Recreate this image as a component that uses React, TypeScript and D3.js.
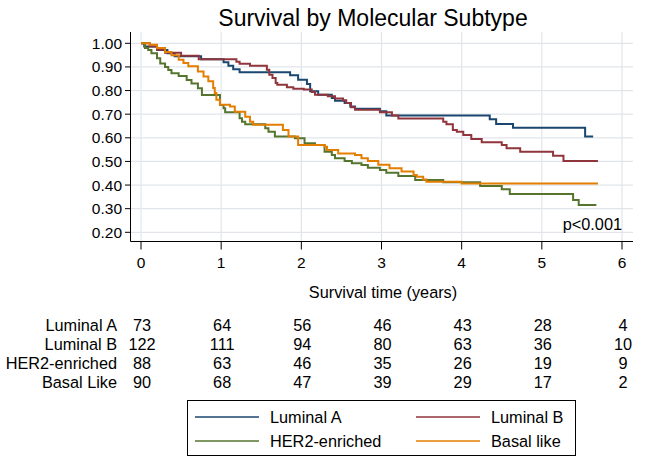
import React from "react";
import * as d3 from "d3";

// ---------- data ----------
const groups = ["Luminal A", "Luminal B", "HER2-enriched", "Basal like"];
const riskLabels = ["Luminal A", "Luminal B", "HER2-enriched", "Basal Like"];
const colors = ["#1a476f", "#90353b", "#55752f", "#e37e00"];

// step curves: times of drops and survival after each drop
const lumATimes = [0, 0.04, 0.2, 0.33, 0.42, 0.75, 1.03, 1.09, 1.15, 1.23, 1.86, 1.96, 2.07, 2.11, 2.21, 2.38, 2.42, 2.54, 2.61, 2.67, 2.98, 3.06, 4.35, 4.43, 4.64, 5.54, 5.64];
const lumASurv = [1.0, 0.986, 0.972, 0.958, 0.945, 0.932, 0.92, 0.905, 0.89, 0.877, 0.865, 0.846, 0.828, 0.797, 0.782, 0.768, 0.757, 0.747, 0.733, 0.723, 0.712, 0.694, 0.678, 0.658, 0.643, 0.605, 0.605];

const lumBTimes = [0, 0.11, 0.2, 0.3, 0.5, 0.72, 1.19, 1.23, 1.36, 1.57, 1.6, 1.64, 1.68, 1.7, 1.82, 1.9, 2.03, 2.13, 2.17, 2.33, 2.42, 2.52, 2.56, 2.62, 2.67, 2.98, 3.13, 3.21, 3.77, 3.81, 3.89, 3.94, 4.02, 4.12, 4.25, 4.5, 4.56, 4.73, 5.14, 5.27, 5.7];
const lumBSurv = [1.0, 0.986, 0.973, 0.96, 0.947, 0.932, 0.922, 0.913, 0.905, 0.888, 0.867, 0.853, 0.832, 0.825, 0.814, 0.808, 0.804, 0.794, 0.782, 0.776, 0.766, 0.759, 0.747, 0.729, 0.719, 0.708, 0.694, 0.682, 0.668, 0.657, 0.633, 0.626, 0.612, 0.595, 0.581, 0.57, 0.556, 0.541, 0.524, 0.502, 0.502];

const her2Times = [0, 0.05, 0.09, 0.13, 0.2, 0.24, 0.3, 0.34, 0.38, 0.47, 0.57, 0.63, 0.71, 0.76, 0.985, 1.03, 1.05, 1.23, 1.26, 1.3, 1.55, 1.59, 1.67, 1.92, 2.04, 2.17, 2.29, 2.38, 2.42, 2.54, 2.63, 2.75, 2.83, 2.98, 3.06, 3.21, 3.42, 3.77, 4.23, 4.5, 4.6, 5.39, 5.46, 5.68];
const her2Surv = [1.0, 0.98, 0.972, 0.958, 0.937, 0.915, 0.9, 0.887, 0.873, 0.862, 0.845, 0.83, 0.81, 0.781, 0.739, 0.725, 0.708, 0.683, 0.668, 0.657, 0.64, 0.626, 0.605, 0.598, 0.577, 0.57, 0.541, 0.527, 0.513, 0.502, 0.492, 0.485, 0.473, 0.464, 0.452, 0.438, 0.421, 0.412, 0.396, 0.382, 0.362, 0.337, 0.316, 0.316];

const basalTimes = [0, 0.11, 0.2, 0.3, 0.38, 0.47, 0.53, 0.59, 0.71, 0.78, 0.84, 0.9, 0.92, 0.94, 0.985, 1.11, 1.17, 1.3, 1.36, 1.4, 1.77, 1.84, 1.96, 2.29, 2.32, 2.46, 2.67, 2.75, 2.83, 2.96, 3.1, 3.25, 3.4, 3.44, 3.52, 3.56, 4.0, 5.7];
const basalSurv = [1.0, 0.994, 0.98, 0.963, 0.949, 0.93, 0.917, 0.903, 0.881, 0.86, 0.839, 0.811, 0.79, 0.761, 0.74, 0.732, 0.71, 0.689, 0.668, 0.655, 0.633, 0.605, 0.57, 0.562, 0.548, 0.534, 0.527, 0.513, 0.502, 0.486, 0.471, 0.457, 0.443, 0.435, 0.424, 0.414, 0.407, 0.407];

const curveTimes = [lumATimes, lumBTimes, her2Times, basalTimes];
const curveSurv = [lumASurv, lumBSurv, her2Surv, basalSurv];

const xTicks = [0, 1, 2, 3, 4, 5, 6];
const yTicks = [0.2, 0.3, 0.4, 0.5, 0.6, 0.7, 0.8, 0.9, 1.0];

const riskLumA = [73, 64, 56, 46, 43, 28, 4];
const riskLumB = [122, 111, 94, 80, 63, 36, 10];
const riskHer2 = [88, 63, 46, 35, 26, 19, 9];
const riskBasal = [90, 68, 47, 39, 29, 17, 2];
const riskRows = [riskLumA, riskLumB, riskHer2, riskBasal];

// ---------- layout ----------
const W = 645, H = 464;
const plotL = 131, plotR = 633, plotT = 32, plotB = 241.5;
const x = d3.scaleLinear().domain([0, 6]).range([141, 622]);
const y = d3.scaleLinear().domain([0.2, 1.0]).range([232.3, 43.3]);
const font = "Arial, 'Liberation Sans', Helvetica, sans-serif";
const gridColor = "#e1e5ea";

export default function App() {
  const line = d3
    .line<[number, number]>()
    .x((d) => x(d[0]))
    .y((d) => y(d[1]))
    .curve(d3.curveStepAfter);

  const tableY = [325, 344, 363, 382];

  return (
    <svg
      width={W}
      height={H}
      style={{ position: "absolute", left: 0, top: 0, background: "#fff" }}
      fontFamily={font}
    >
      <rect x={0} y={0} width={W} height={H} fill="#fff" />
      {/* title */}
      <text x={373} y={26} textAnchor="middle" fontSize={23} fill="#000">
        Survival by Molecular Subtype
      </text>

      {/* grid */}
      {yTicks.map((t) => (
        <line key={"gy" + t} x1={plotL} x2={plotR} y1={y(t)} y2={y(t)} stroke={gridColor} strokeWidth={1.2} />
      ))}
      {xTicks.map((t) => (
        <line key={"gx" + t} x1={x(t)} x2={x(t)} y1={plotT} y2={plotB} stroke={t === 0 ? "#dfe8f2" : gridColor} strokeWidth={1.2} />
      ))}

      {/* axes */}
      <line x1={plotL - 0.5} x2={plotL - 0.5} y1={plotT} y2={plotB} stroke="#000" strokeWidth={1} />
      <line x1={plotL - 0.5} x2={plotR} y1={plotB} y2={plotB} stroke="#000" strokeWidth={1} />
      {yTicks.map((t) => (
        <g key={"yt" + t}>
          <line x1={plotL - 6} x2={plotL - 0.5} y1={y(t)} y2={y(t)} stroke="#000" />
          <text x={122} y={y(t) + 5.5} textAnchor="end" fontSize={15.5} fill="#000">
            {t.toFixed(2)}
          </text>
        </g>
      ))}
      {xTicks.map((t) => (
        <g key={"xt" + t}>
          <line x1={x(t)} x2={x(t)} y1={plotB} y2={plotB + 8} stroke="#000" />
          <text x={x(t)} y={268} textAnchor="middle" fontSize={15.5} fill="#000">
            {t}
          </text>
        </g>
      ))}
      <text x={383} y={298} textAnchor="middle" fontSize={16.3} fill="#000">
        Survival time (years)
      </text>

      {/* curves */}
      {curveTimes.map((ts, i) => {
        const pts: [number, number][] = ts.map((t, j) => [t, curveSurv[i][j]]);
        return (
          <path key={"c" + i} d={line(pts) || ""} fill="none" stroke={colors[i]} strokeWidth={2} />
        );
      })}

      <text x={622} y={229.5} textAnchor="end" fontSize={16.3} fill="#000">
        p&lt;0.001
      </text>

      {/* risk table */}
      {riskRows.map((row, i) => (
        <g key={"r" + i}>
          <text x={117} y={tableY[i] + 5.5} textAnchor="end" fontSize={16.3} fill="#000">
            {riskLabels[i]}
          </text>
          {row.map((v, j) => (
            <text key={j} x={x(xTicks[j]) + 1} y={tableY[i] + 5.5} textAnchor="middle" fontSize={16.3} fill="#000">
              {v}
            </text>
          ))}
        </g>
      ))}

      {/* legend */}
      <rect x={187.5} y={400.5} width={388} height={55} fill="#fff" stroke="#000" strokeWidth={1} />
      {groups.map((g, i) => {
        const col = i % 2;
        const row = Math.floor(i / 2);
        const lx = col === 0 ? 195 : 416;
        const ly = row === 0 ? 417 : 441;
        return (
          <g key={"l" + i}>
            <line x1={lx} x2={lx + 64} y1={ly} y2={ly} stroke={colors[i]} strokeWidth={1.5} />
            <text x={lx + 75} y={ly + 6} fontSize={16.3} fill="#000">
              {g}
            </text>
          </g>
        );
      })}
    </svg>
  );
}
